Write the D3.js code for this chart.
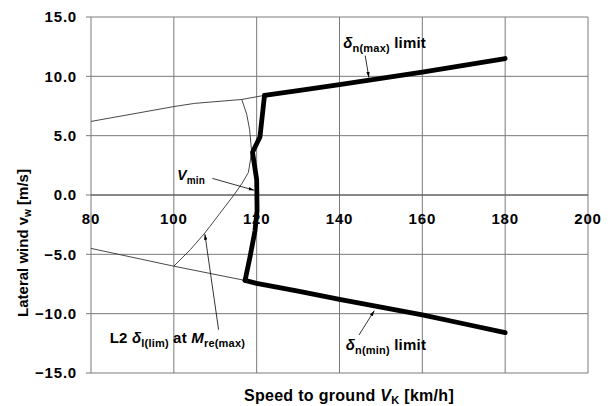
<!DOCTYPE html>
<html>
<head>
<meta charset="utf-8">
<script src="https://cdn.jsdelivr.net/npm/d3@7"></script>
<style>
  body { margin: 0; background: #fff; }
  text { font-family: "Liberation Sans", Arial, sans-serif; font-weight: bold; fill: #000; }
</style>
</head>
<body>
<div id="chart"></div>
<script>
// axis ticks
const xTicks = [80, 100, 120, 140, 160, 180, 200];
const yTicks = [15, 10, 5, 0, -5, -10, -15];

// thin lines (speed km/h, wind m/s)
const upperThin = [[80, 6.2], [100, 7.45], [105, 7.72], [116.4, 8.05], [121.9, 8.4]];
const lowerThin = [[80, -4.5], [100, -6.0], [117.2, -7.2]];
const l2Curve = [[100, -6.0], [104, -4.6], [107.5, -3.2], [111, -1.6], [114.5, 0.0], [116.5, 1.0],
                 [118, 1.9], [118.8, 3.6], [118.3, 5.5], [117.6, 6.8], [116.4, 8.05]];

// thick limit lines
const vminLine = [[121.9, 8.4], [120.8, 4.9], [119.0, 3.6], [120.0, 1.3], [120.1, -1.3],
                  [119.6, -3.0], [118.4, -5.2], [117.2, -7.2]];
const nMaxLine = [[121.9, 8.4], [130, 8.8], [140, 9.3], [150, 9.82], [160, 10.36], [170, 10.92], [180, 11.5]];
const nMinLine = [[117.2, -7.2], [120, -7.45], [130, -8.1], [140, -8.8], [150, -9.45], [160, -10.1],
                  [170, -10.85], [180, -11.6]];

const margin = {top: 17, right: 26, bottom: 33, left: 91},
      width = 614 - margin.left - margin.right,
      height = 406 - margin.top - margin.bottom;

const svg = d3.select("#chart")
  .append("svg")
    .attr("width", 614)
    .attr("height", 406)
  .append("g")
    .attr("transform", "translate(" + margin.left + "," + margin.top + ")");

const x = d3.scaleLinear().domain([80, 200]).range([0, width]);
const y = d3.scaleLinear().domain([-15, 15]).range([height, 0]);

// grid
svg.append("g").selectAll("line")
  .data(xTicks)
  .enter().append("line")
    .attr("x1", d => x(d)).attr("x2", d => x(d))
    .attr("y1", 0).attr("y2", height)
    .attr("stroke", "#7a7a7a").attr("stroke-width", 1);
svg.append("g").selectAll("line")
  .data(yTicks)
  .enter().append("line")
    .attr("x1", -5).attr("x2", width)
    .attr("y1", d => y(d)).attr("y2", d => y(d))
    .attr("stroke", "#7a7a7a").attr("stroke-width", 1);

// zero line axis
svg.append("line")
  .attr("x1", 0).attr("x2", width)
  .attr("y1", y(0)).attr("y2", y(0))
  .attr("stroke", "#555");

// tick labels
svg.append("g").selectAll("text")
  .data(yTicks)
  .enter().append("text")
    .attr("x", -14).attr("y", d => y(d))
    .attr("dy", "0.36em")
    .attr("text-anchor", "end")
    .style("font-size", "15px")
    .style("letter-spacing", "0.8px")
    .text(d => d3.format(".1f")(d));
svg.append("g").selectAll("text")
  .data(xTicks)
  .enter().append("text")
    .attr("x", d => x(d)).attr("y", y(0) + 29)
    .attr("text-anchor", "middle")
    .style("font-size", "15px")
    .style("letter-spacing", "0.8px")
    .text(d => d);

// axis titles
const xt = svg.append("text")
  .attr("x", 258).attr("y", height + 28)
  .attr("text-anchor", "middle")
  .style("font-size", "16px")
  .style("letter-spacing", "0.3px");
xt.append("tspan").text("Speed to ground ");
xt.append("tspan").style("font-style", "italic").text("V");
xt.append("tspan").attr("dy", 3).style("font-size", "11px").text("K");
xt.append("tspan").attr("dy", -3).text(" [km/h]");

const yt = svg.append("text")
  .attr("transform", "translate(-63," + (y(0) + 48) + ") rotate(-90)")
  .attr("text-anchor", "middle")
  .style("font-size", "15px");
yt.append("tspan").text("Lateral wind v");
yt.append("tspan").attr("dy", 3).style("font-size", "10px").text("w");
yt.append("tspan").attr("dy", -3).text(" [m/s]");

// lines
const line = d3.line().x(d => x(d[0])).y(d => y(d[1]));
[upperThin, lowerThin, l2Curve].forEach(function(d) {
  svg.append("path").datum(d)
    .attr("d", line)
    .attr("fill", "none").attr("stroke", "#333").attr("stroke-width", 0.9);
});
[vminLine, nMaxLine, nMinLine].forEach(function(d) {
  svg.append("path").datum(d)
    .attr("d", line)
    .attr("fill", "none").attr("stroke", "#000").attr("stroke-width", 4.8)
    .attr("stroke-linejoin", "round").attr("stroke-linecap", "round");
});

// arrows
svg.append("defs").append("marker")
    .attr("id", "arr")
    .attr("viewBox", "0 0 10 10")
    .attr("refX", 10).attr("refY", 5)
    .attr("markerWidth", 7).attr("markerHeight", 7)
    .attr("orient", "auto")
  .append("path")
    .attr("d", "M0,2 L10,5 L0,8 Z")
    .attr("fill", "#000");

const arrows = [
  [[146.2, 11.75], [147.1, 9.9]],
  [[109.3, 1.4], [119.4, 0.4]],
  [[110.8, -11.35], [107.5, -3.3]],
  [[144.7, -11.8], [148.4, -9.75]]
];
svg.append("g").selectAll("line")
  .data(arrows)
  .enter().append("line")
    .attr("x1", d => x(d[0][0])).attr("y1", d => y(d[0][1]))
    .attr("x2", d => x(d[1][0])).attr("y2", d => y(d[1][1]))
    .attr("stroke", "#000").attr("stroke-width", 0.8)
    .attr("marker-end", "url(#arr)");

// labels
function label(px, py, size, parts) {
  const t = svg.append("text").attr("x", x(px)).attr("y", y(py))
    .style("font-size", size + "px").style("letter-spacing", "0.2px");
  parts.forEach(function(p) {
    const s = t.append("tspan").text(p.t);
    if (p.i) s.style("font-style", "italic");
    if (p.sub) s.attr("dy", 4).style("font-size", (size - 4) + "px");
    if (p.up) s.attr("dy", -4);
  });
}
label(140.9, 12.4, 15, [{t: "δ", i: true}, {t: "n(max)", sub: true}, {t: " limit", up: true}]);
label(141.5, -13.1, 15, [{t: "δ", i: true}, {t: "n(min)", sub: true}, {t: " limit", up: true}]);
label(100.8, 1.3, 14, [{t: "V", i: true}, {t: "min", sub: true}]);
label(84.5, -12.5, 15, [{t: "L2 "}, {t: "δ", i: true}, {t: "l(lim)", sub: true}, {t: " at ", up: true},
                    {t: "M", i: true}, {t: "re(max)", sub: true}]);
</script>
</body>
</html>
